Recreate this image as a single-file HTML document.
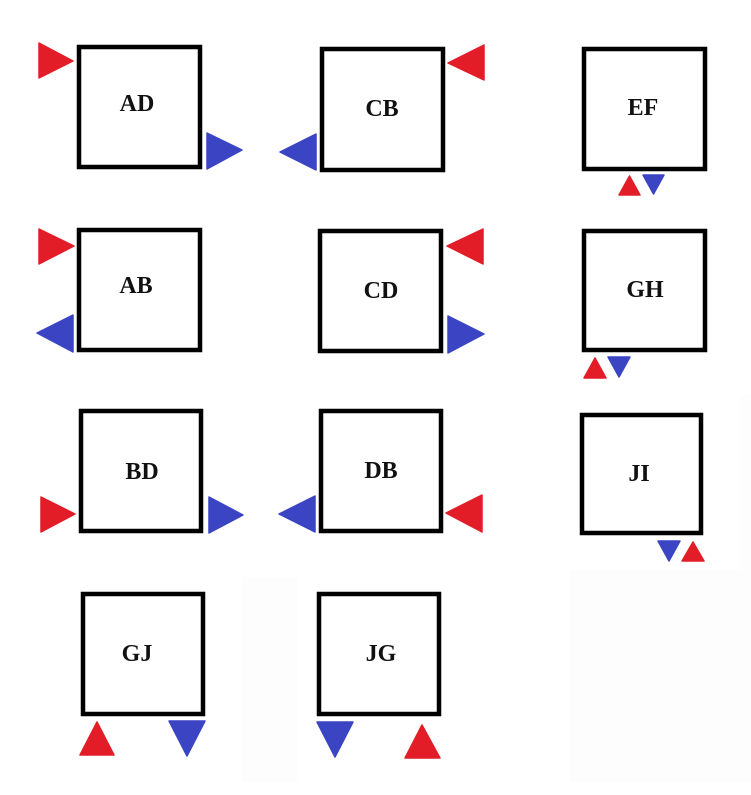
<!DOCTYPE html>
<html><head><meta charset="utf-8"><style>
html,body{margin:0;padding:0;background:#fff;}
svg{display:block;}
text{font-family:"Liberation Serif",serif;font-weight:bold;font-size:24px;text-anchor:middle;dominant-baseline:central;fill:#111;}
.b{fill:none;stroke:#000;stroke-width:4.5;}
.r{fill:#e21d28;stroke:#e21d28;stroke-width:1.5;stroke-linejoin:round;}
.u{fill:#3b44c2;stroke:#3b44c2;stroke-width:1.5;stroke-linejoin:round;}
</style></head><body>
<svg width="751" height="795" viewBox="0 0 751 795">
<rect x="242" y="577" width="55" height="205" fill="#fdfdfd"/>
<rect x="570" y="570" width="181" height="212" fill="#fdfdfd"/>
<rect x="740" y="395" width="11" height="175" fill="#fdfdfd"/>
<!-- AD -->
<rect class="b" x="79" y="47" width="121" height="120"/><text x="137" y="104">AD</text>
<polygon class="r" points="39,43 39,78 73,61"/>
<polygon class="u" points="207,133 207,169 242,150"/>
<!-- CB -->
<rect class="b" x="322" y="49" width="121" height="121"/><text x="382" y="109">CB</text>
<polygon class="r" points="484,45 484,80 448,63"/>
<polygon class="u" points="316,134 316,170 280,152"/>
<!-- EF -->
<rect class="b" x="584" y="49" width="121" height="120"/><text x="643" y="108">EF</text>
<polygon class="r" points="619,195 640,195 629.5,176"/>
<polygon class="u" points="643,175 664,175 653.5,194"/>
<!-- AB -->
<rect class="b" x="79" y="230" width="121" height="120"/><text x="136" y="286">AB</text>
<polygon class="r" points="39,229 39,264 74,246"/>
<polygon class="u" points="73,315 73,352 37,333"/>
<!-- CD -->
<rect class="b" x="320" y="231" width="121" height="120"/><text x="381" y="291">CD</text>
<polygon class="r" points="483,229 483,264 447,246"/>
<polygon class="u" points="448,316 448,353 484,334"/>
<!-- GH -->
<rect class="b" x="584" y="231" width="121" height="119"/><text x="645" y="290">GH</text>
<polygon class="r" points="584,378 606,378 595,358"/>
<polygon class="u" points="608,357 630,357 619,377"/>
<!-- BD -->
<rect class="b" x="81" y="411" width="120" height="120"/><text x="142" y="472">BD</text>
<polygon class="r" points="41,497 41,532 75,514"/>
<polygon class="u" points="209,497 209,533 243,515"/>
<!-- DB -->
<rect class="b" x="321" y="411" width="120" height="120"/><text x="381" y="471">DB</text>
<polygon class="u" points="315,496 315,532 279,514"/>
<polygon class="r" points="482,495 482,532 446,513"/>
<!-- JI -->
<rect class="b" x="582" y="415" width="119" height="118"/><text x="639" y="474">JI</text>
<polygon class="u" points="658,541 680,541 669,561"/>
<polygon class="r" points="682,561 704,561 693,542"/>
<!-- GJ -->
<rect class="b" x="83" y="594" width="120" height="120"/><text x="137" y="654">GJ</text>
<polygon class="r" points="80,755 114,755 97,722"/>
<polygon class="u" points="169,721 205,721 187,756"/>
<!-- JG -->
<rect class="b" x="319" y="594" width="120" height="120"/><text x="381" y="654">JG</text>
<polygon class="u" points="317,722 353,722 335,757"/>
<polygon class="r" points="405,758 440,758 422,725"/>
</svg>
</body></html>
